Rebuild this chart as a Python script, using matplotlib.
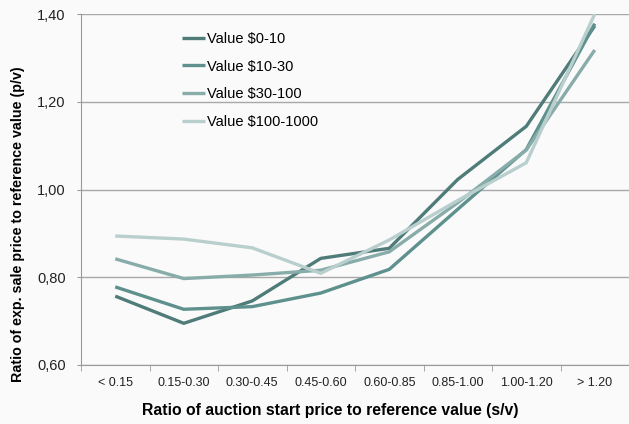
import matplotlib.pyplot as plt
from matplotlib.ticker import FuncFormatter

plt.rcParams['font.family'] = ['Liberation Sans', 'DejaVu Sans']

categories = ['< 0.15', '0.15-0.30', '0.30-0.45', '0.45-0.60',
              '0.60-0.85', '0.85-1.00', '1.00-1.20', '> 1.20']
series_names = ['Value $0-10', 'Value $10-30', 'Value $30-100', 'Value $100-1000']
value_0_10 = [0.757, 0.695, 0.746, 0.843, 0.866, 1.023, 1.144, 1.373]
value_10_30 = [0.778, 0.727, 0.733, 0.764, 0.818, 0.955, 1.091, 1.378]
value_30_100 = [0.842, 0.797, 0.805, 0.816, 0.858, 0.970, 1.090, 1.318]
value_100_1000 = [0.894, 0.887, 0.867, 0.809, 0.885, 0.975, 1.061, 1.400]
y_ticks = [0.60, 0.80, 1.00, 1.20, 1.40]

colors = ['#4f7b79', '#5e918e', '#87acaa', '#b8cfcd']

fig = plt.figure(figsize=(6.29, 4.24), dpi=100, facecolor='#fafafa')
ax = fig.add_axes([81 / 629, 1 - 365 / 424, 1 - 81 / 629, (365 - 14) / 424])
ax.set_facecolor('#fafafa')

x = list(range(len(categories)))
for name, vals, c in zip(series_names,
                         [value_0_10, value_10_30, value_30_100, value_100_1000],
                         colors):
    ax.plot(x, vals, color=c, linewidth=2.4, label=name, solid_capstyle='butt')

ax.set_xlim(-0.5, 7.5 - 4 / 69)
ax.set_ylim(0.6, 1.4)
ax.set_yticks(y_ticks)
ax.yaxis.set_major_formatter(FuncFormatter(lambda v, p: f'{v:.2f}'.replace('.', ',')))
ax.set_xticks(x)
ax.set_xticklabels(categories)
ax.set_xticks([i - 0.5 for i in range(len(categories) + 1)], minor=True)
ax.tick_params(axis='x', which='major', length=0, pad=9, labelsize=9, colors='#222222')
ax.tick_params(axis='x', which='minor', length=4, color='#999999', direction='out')
ax.tick_params(axis='y', length=3, labelsize=10.5, colors='#222222', pad=8)
ax.tick_params(axis='y', color='#999999')
ax.grid(axis='y', color='#a8a8a8', linewidth=1)
ax.set_axisbelow(True)

for s in ['top', 'right']:
    ax.spines[s].set_visible(False)
for s in ['left', 'bottom']:
    ax.spines[s].set_color('#999999')

fig.text(330 / 629, 1 - 411 / 424,
         'Ratio of auction start price to reference value (s/v)',
         fontsize=11.3, fontweight='bold', ha='center', va='center')
fig.text(18 / 629, 1 - 224 / 424,
         'Ratio of exp. sale price to reference value (p/v)',
         fontsize=10.3, fontweight='bold', ha='center', va='center', rotation=90)

ax.legend(loc='upper left', bbox_to_anchor=(0.16, 0.987), frameon=False,
          fontsize=10.5, handlelength=1.6, handletextpad=0.1, labelspacing=0.95)

fig.savefig('out.png', dpi=100, facecolor=fig.get_facecolor())
